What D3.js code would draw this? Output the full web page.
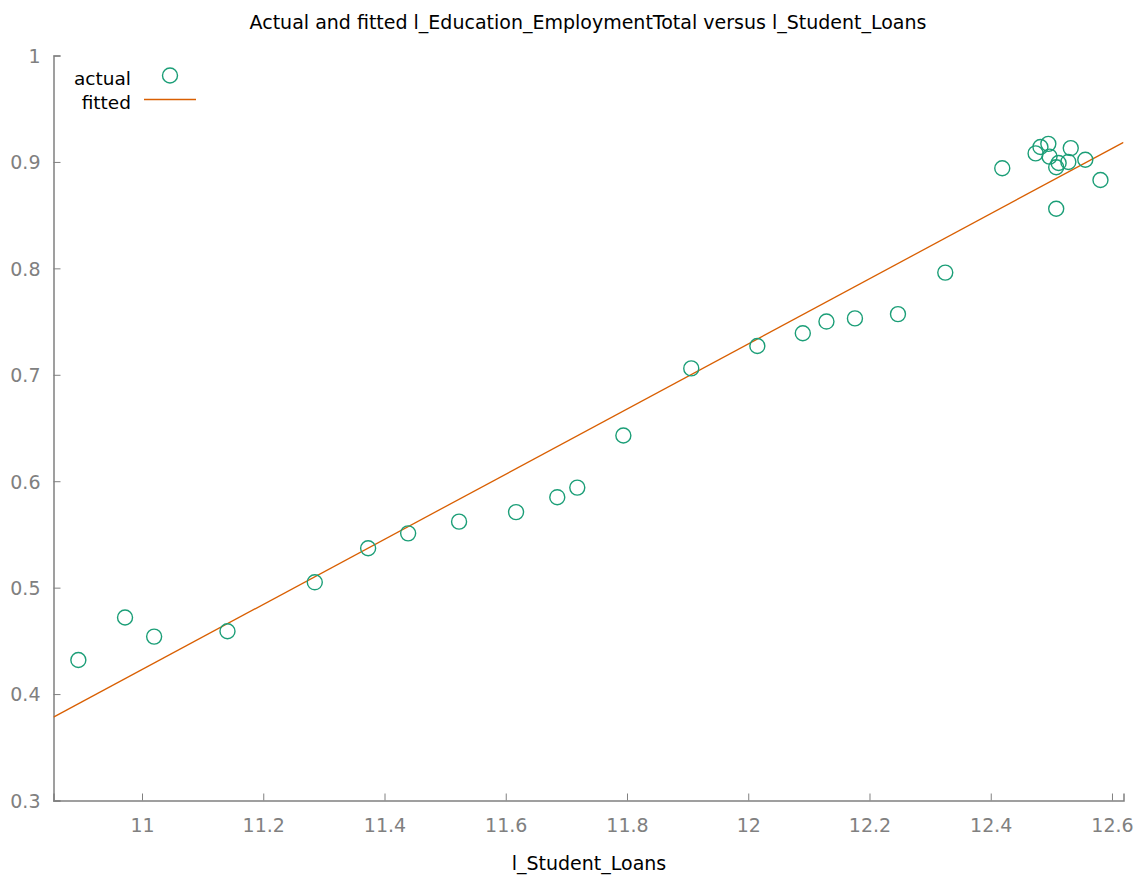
<!DOCTYPE html>
<html><head><meta charset="utf-8">
<script src="https://cdn.jsdelivr.net/npm/d3@7"></script>
<style>body{margin:0;background:#fff;} svg{display:block;font-family:"DejaVu Sans",sans-serif;}</style>
</head><body>
<svg id="c" width="1143" height="876"></svg>
<script>
const studentLoans = [10.895,10.972,11.020,11.141,11.285,11.373,11.439,11.523,11.617,11.685,11.718,11.794,11.906,12.015,12.090,12.129,12.176,12.247,12.325,12.419,12.474,12.482,12.495,12.497,12.508,12.512,12.532,12.528,12.556,12.581,12.508];
const employment = [0.432,0.472,0.454,0.459,0.505,0.537,0.551,0.562,0.571,0.585,0.594,0.643,0.706,0.727,0.739,0.750,0.753,0.757,0.796,0.894,0.908,0.914,0.917,0.905,0.895,0.899,0.913,0.900,0.902,0.883,0.856];
const fitIntercept = -2.943, fitSlope = 0.306;
const xTicks = [11,11.2,11.4,11.6,11.8,12,12.2,12.4,12.6];
const yTicks = [0.3,0.4,0.5,0.6,0.7,0.8,0.9,1];
const xDomain = [10.854, 12.619];
const yDomain = [0.3, 1];

const svg = d3.select("#c");
const L = 53.5, R = 1123.5, T = 55.5, B = 800.5;
const x = d3.scaleLinear().domain(xDomain).range([L, R]);
const y = d3.scaleLinear().domain(yDomain).range([B, T]);
const grey = "#808080";

svg.append("text").attr("x", 588).attr("y", 28.5).attr("text-anchor","middle")
  .attr("font-size", 19).attr("fill","#000")
  .text("Actual and fitted l_Education_EmploymentTotal versus l_Student_Loans");

const xa = svg.append("g").attr("transform",`translate(0,${B})`)
  .call(d3.axisBottom(x).tickValues(xTicks).tickSize(-7).tickPadding(18.5).tickFormat(d3.format("")));
const ya = svg.append("g").attr("transform",`translate(${L},0)`)
  .call(d3.axisLeft(y).tickValues(yTicks).tickSize(-7).tickPadding(13).tickFormat(d3.format("")));
[xa, ya].forEach(a => {
  a.select(".domain").attr("stroke", grey).attr("stroke-width",1.5);
  a.selectAll(".tick line").attr("stroke", grey);
  a.selectAll(".tick text").attr("fill", grey).attr("font-size", 19).attr("font-family","DejaVu Sans, sans-serif");
});
ya.selectAll(".tick text").attr("dy","0.36em");

svg.append("text").attr("x", 589).attr("y", 869.5).attr("text-anchor","middle")
  .attr("font-size", 19).attr("fill","#000").text("l_Student_Loans");

svg.append("clipPath").attr("id","cp").append("rect")
  .attr("x", L).attr("y", T).attr("width", R-L).attr("height", B-T);

svg.append("line").attr("clip-path","url(#cp)")
  .attr("x1", x(xDomain[0])).attr("y1", y(fitIntercept + fitSlope*xDomain[0]))
  .attr("x2", x(xDomain[1])).attr("y2", y(fitIntercept + fitSlope*xDomain[1]))
  .attr("stroke","#d95f02").attr("stroke-width",1.3);

svg.append("g").selectAll("circle").data(studentLoans).join("circle")
  .attr("cx", d => x(d)).attr("cy", (d,i) => y(employment[i])).attr("r", 7.5)
  .attr("fill","none").attr("stroke","#1b9e77").attr("stroke-width",1.4);

// legend
svg.append("text").attr("x",131).attr("y",84.5).attr("text-anchor","end").attr("font-size",18.5).text("actual");
svg.append("text").attr("x",131).attr("y",108.5).attr("text-anchor","end").attr("font-size",18.5).text("fitted");
svg.append("circle").attr("cx",170).attr("cy",75.5).attr("r",7.5).attr("fill","none").attr("stroke","#1b9e77").attr("stroke-width",1.4);
svg.append("line").attr("x1",144).attr("x2",196).attr("y1",99.5).attr("y2",99.5).attr("stroke","#d95f02").attr("stroke-width",1.3);
</script>
</body></html>
